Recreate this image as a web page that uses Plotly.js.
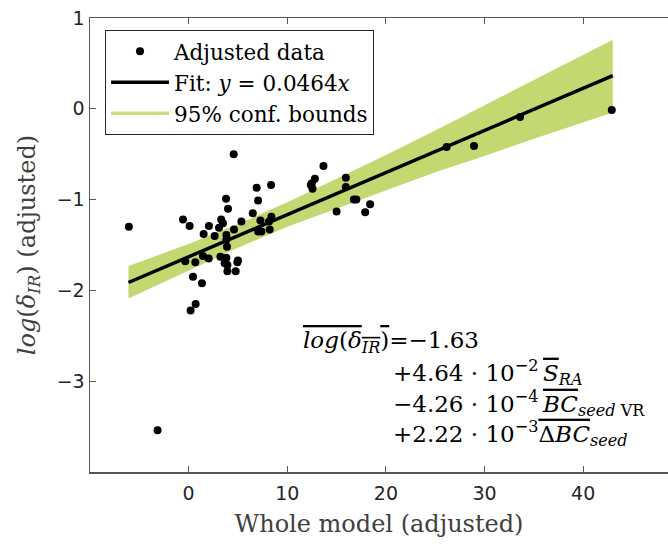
<!DOCTYPE html>
<html>
<head>
<meta charset="utf-8">
<script src="https://cdn.plot.ly/plotly-3.0.1.min.js"></script>
<style>html,body{margin:0;padding:0;background:#fff;}#chart{width:668px;height:544px;}</style>
</head>
<body>
<div id="chart"></div>
<script>
// Adjusted data points
const dataX = [-6.06, 4.57, 6.9, 8.36, 3.79, 7.04, -0.57, 0.1, 3.99, 3.3, 3.48, 3.08, 2.06, 5.35, 6.5,
  7.28, 8.39, 8.15, 8.22, 7.04, 7.38, 4.6, 3.83, 2.64, 1.52, 3.83, 3.89, 1.45, 2.03, 3.22,
  3.83, 5.0, 4.94, 3.65, 3.93, -0.34, 0.68, 3.93, 4.77, 0.44, 1.35, 0.71, 0.2, -3.15,
  13.67, 12.8, 12.49, 12.56, 12.39, 15.94, 15.94, 16.75, 17.0, 15.0, 17.9, 18.4,
  26.16, 28.93, 33.6, 42.9];
const dataY = [-1.30, -0.50, -0.87, -0.84, -0.99, -1.01, -1.22, -1.29, -1.10, -1.22, -1.26, -1.31, -1.29, -1.24, -1.15,
  -1.23, -1.19, -1.24, -1.33, -1.35, -1.35, -1.33, -1.39, -1.40, -1.38, -1.44, -1.52, -1.62, -1.65, -1.63,
  -1.64, -1.67, -1.69, -1.70, -1.72, -1.68, -1.69, -1.79, -1.79, -1.85, -1.92, -2.15, -2.22, -3.54,
  -0.63, -0.77, -0.82, -0.88, -0.84, -0.76, -0.86, -1.00, -1.00, -1.13, -1.14, -1.05,
  -0.42, -0.41, -0.09, -0.013];

// Fit line endpoints
const fitX = [-6.1, 43];
const fitY = [-1.913, 0.365];

// 95% confidence band
const bandX = [-6.1, 0, 5, 10, 15, 20, 25, 30, 35, 43];
const bandUpper = [-1.73, -1.49, -1.27, -1.03, -0.77, -0.51, -0.24, 0.04, 0.32, 0.76];
const bandLower = [-2.09, -1.78, -1.53, -1.30, -1.10, -0.90, -0.70, -0.52, -0.33, -0.04];

const xTicks = [0, 10, 20, 30, 40];
const yTicks = [-3, -2, -1, 0, 1];

const green = '#c4d872';
const serif = 'DejaVu Serif';
const axisCol = '#555555';
const textCol = '#262626';

const bandPolyX = bandX.concat(bandX.slice().reverse());
const bandPolyY = bandUpper.concat(bandLower.slice().reverse());

const traces = [
  {x: bandPolyX, y: bandPolyY, type: 'scatter', mode: 'lines', fill: 'toself',
   fillcolor: green, line: {width: 0, color: green}, showlegend: false, hoverinfo: 'skip'},
  {x: dataX, y: dataY, type: 'scatter', mode: 'markers', name: 'Adjusted data',
   marker: {color: '#000', size: 8}, legendrank: 1},
  {x: fitX, y: fitY, type: 'scatter', mode: 'lines', name: 'Fit: <i>y</i> = 0.0464<i>x</i>',
   line: {color: '#000', width: 3.5}, legendrank: 2},
  {x: [null], y: [null], type: 'scatter', mode: 'lines', name: '95% conf. bounds',
   line: {color: '#c8dc84', width: 3.5}, legendrank: 3}
];

const ol = s => '<span style="text-decoration:overline">' + s + '</span>';
const eqFont = {family: serif, size: 23, color: '#000'};
const layout = {
  width: 668, height: 544,
  margin: {l: 90, r: 0, t: 18, b: 72},
  paper_bgcolor: '#fff', plot_bgcolor: '#fff',
  showlegend: true,
  legend: {x: 0.026, y: 0.974, xanchor: 'left', yanchor: 'top',
    bgcolor: '#fff', bordercolor: textCol, borderwidth: 1, itemwidth: 58,
    font: {family: serif, size: 21.5, color: '#000'}, tracegroupgap: 0},
  xaxis: {range: [-10, 48.6], tickvals: xTicks, ticks: 'inside', ticklen: 6, tickwidth: 1,
    tickcolor: axisCol, showline: true, linecolor: axisCol, linewidth: 1.5, mirror: 'ticks',
    showgrid: false, zeroline: false, ticklabelstandoff: 4,
    tickfont: {family: 'DejaVu Sans', size: 19, color: textCol},
    title: {text: 'Whole model (adjusted)', font: {family: serif, size: 24, color: '#404040'}, standoff: 12}},
  yaxis: {range: [-4, 1], tickvals: yTicks, ticks: 'inside', ticklen: 6, tickwidth: 1,
    tickcolor: axisCol, showline: true, linecolor: axisCol, linewidth: 1.5,
    showgrid: false, zeroline: false,
    tickfont: {family: 'DejaVu Sans', size: 19, color: textCol},
    title: {text: '<i>log</i>(<i>δ</i><sub><i>IR</i></sub>) (adjusted)', font: {family: serif, size: 24, color: '#404040'}, standoff: 14}},
  annotations: [
    {xref: 'paper', yref: 'paper', x: 0.365, y: 0.286, xanchor: 'left', yanchor: 'middle', showarrow: false, font: eqFont,
     text: ol('<i>log</i>(<i>δ</i><sub><i>IR</i></sub>)') + '=−1.63'},
    {xref: 'paper', yref: 'paper', x: 0.520, y: 0.220, xanchor: 'left', yanchor: 'middle', showarrow: false, font: eqFont,
     text: '+4.64 · 10<sup>−2</sup>\u2009' + ol('<i>S</i>') + '<sub><i>RA</i></sub>'},
    {xref: 'paper', yref: 'paper', x: 0.520, y: 0.151, xanchor: 'left', yanchor: 'middle', showarrow: false, font: eqFont,
     text: '−4.26 · 10<sup>−4</sup>\u2009' + ol('<i>BC</i>') + '<sub><i>seed</i> VR</sub>'},
    {xref: 'paper', yref: 'paper', x: 0.520, y: 0.085, xanchor: 'left', yanchor: 'middle', showarrow: false, font: eqFont,
     text: '+2.22 · 10<sup>−3</sup>' + ol('Δ<i>BC</i>') + '<sub><i>seed</i></sub>'}
  ]
};

Plotly.newPlot('chart', traces, layout, {displayModeBar: false, staticPlot: true});
</script>
</body>
</html>
